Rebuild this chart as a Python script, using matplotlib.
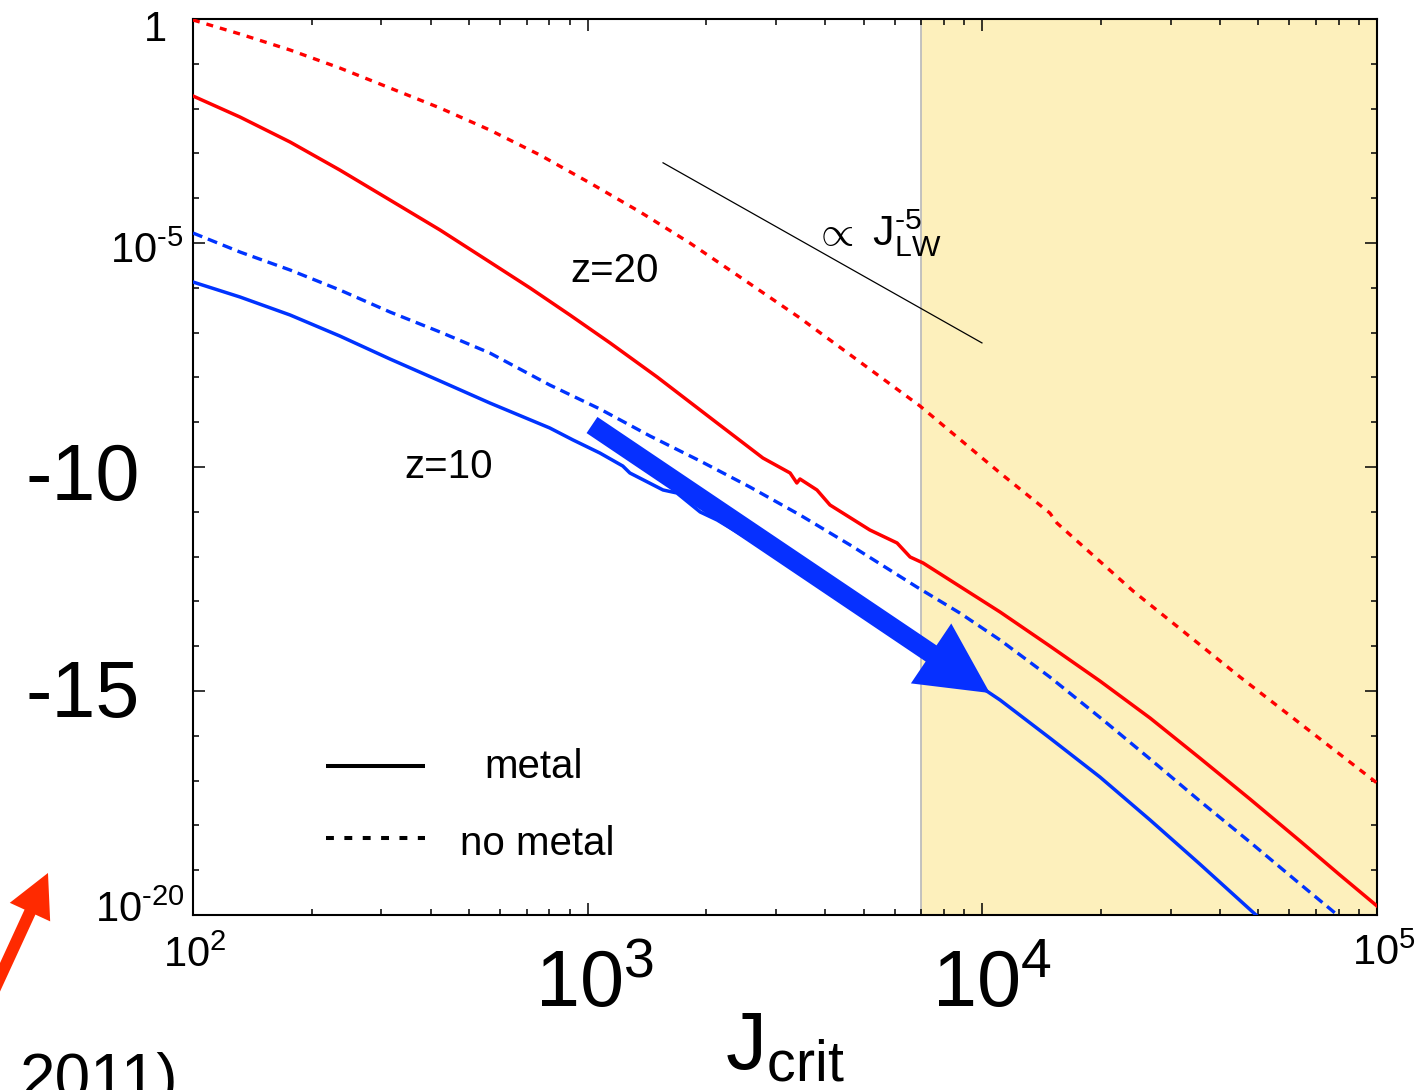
import numpy as np
import matplotlib
matplotlib.use("Agg")
import matplotlib.pyplot as plt
from matplotlib import font_manager
from matplotlib.patches import FancyArrowPatch, ArrowStyle
from matplotlib.lines import Line2D
from matplotlib.ticker import FixedLocator, LogLocator, NullFormatter
from matplotlib.transforms import offset_copy, blended_transform_factory

# ---------------- data (log10 J_crit, log10 fraction) ----------------
# z = 20, no metal (dotted red)
logj_nometal_z20 = [2.000, 2.119, 2.246, 2.372, 2.499, 2.626, 2.752, 2.879, 3.006, 3.133, 3.259,
                    3.386, 3.538, 3.690, 3.842, 4.045, 4.171, 4.189, 4.382, 4.653, 5.000]
logf_nometal_z20 = [-0.022, -0.335, -0.692, -1.094, -1.540, -1.987, -2.478, -3.036, -3.661, -4.308,
                    -5.000, -5.759, -6.674, -7.656, -8.638, -10.134, -11.027, -11.250, -12.768,
                    -14.688, -17.054]

# z = 20, metal (solid red)
logj_metal_z20 = [2.000, 2.119, 2.246, 2.372, 2.499, 2.626, 2.752, 2.854, 2.955, 3.057, 3.176,
                  3.328, 3.444, 3.513, 3.530, 3.538, 3.581, 3.614, 3.715, 3.784, 3.817, 3.850,
                  4.045, 4.171, 4.298, 4.425, 4.551, 4.678, 4.805, 4.906, 5.000]
logf_metal_z20 = [-1.719, -2.188, -2.746, -3.371, -4.040, -4.710, -5.424, -6.004, -6.607, -7.232,
                  -7.991, -9.018, -9.799, -10.134, -10.357, -10.268, -10.513, -10.848, -11.406,
                  -11.696, -12.009, -12.143, -13.237, -13.996, -14.777, -15.603, -16.496, -17.411,
                  -18.348, -19.107, -19.799]

# z = 10, no metal (dotted blue)
logj_nometal_z10 = [2.000, 2.119, 2.246, 2.372, 2.499, 2.626, 2.752, 2.904, 3.031, 3.158, 3.285,
                    3.411, 3.538, 3.665, 3.834, 3.943, 4.045, 4.171, 4.306, 4.425, 4.551, 4.678,
                    4.805, 4.906]
logf_nometal_z10 = [-4.777, -5.201, -5.603, -6.049, -6.540, -6.987, -7.455, -8.170, -8.705, -9.308,
                    -9.866, -10.446, -11.071, -11.741, -12.679, -13.259, -13.862, -14.688, -15.647,
                    -16.518, -17.455, -18.371, -19.308, -20.045]

# z = 10, metal (solid blue)
logj_metal_z10 = [2.000, 2.119, 2.246, 2.372, 2.499, 2.626, 2.752, 2.904, 2.963, 3.031, 3.089,
                  3.107, 3.191, 3.226, 3.285, 3.328, 3.538, 3.792, 4.045, 4.171, 4.298, 4.425,
                  4.551, 4.696]
logf_metal_z10 = [-5.871, -6.205, -6.607, -7.076, -7.589, -8.080, -8.571, -9.129, -9.397, -9.688,
                  -9.978, -10.134, -10.513, -10.580, -11.004, -11.183, -12.299, -13.705, -15.201,
                  -16.049, -16.920, -17.879, -18.862, -20.020]

# power-law guide  ~ J^-5
ref_logj = [3.191, 3.999]
ref_logf = [-3.21, -7.23]

# shift of the z=10 metal curve
arrow_logj = [3.011, 4.019]
arrow_logf = [-9.063, -15.045]

# region above the critical intensity
j_shade = 7000

x_major = [1e2, 1e3, 1e4, 1e5]
y_major = [1e-20, 1e-15, 1e-10, 1e-5, 1.0]

# ---------------- style ----------------
names = {f.name for f in font_manager.fontManager.ttflist}
FAMILY = "Liberation Sans"
plt.rcParams["font.family"] = [FAMILY, "DejaVu Sans"]
plt.rcParams["mathtext.fontset"] = "custom"
plt.rcParams["mathtext.rm"] = FAMILY
plt.rcParams["mathtext.it"] = FAMILY + ":italic"
plt.rcParams["mathtext.bf"] = FAMILY + ":bold"
plt.rcParams["mathtext.sf"] = FAMILY

RED = "#FF0000"
BLUE = "#0033FF"
ARROW_BLUE = "#0630FF"
SHADE = "#FDF0BC"

fig = plt.figure(figsize=(14.28, 10.9), dpi=100)
ax = fig.add_axes([0.13515, 0.16055, 0.82913, 0.82202])
ax.set_xscale("log")
ax.set_yscale("log")


def pw(v):
    return np.power(10.0, v)


# shaded band and its edge
ax.axvspan(j_shade, 1e6, color=SHADE, zorder=0, lw=0)
ax.axvline(j_shade, color="#BDBDBD", lw=1.3, zorder=0.5)

lw = 2.5
ax.plot(pw(logj_nometal_z20), pw(logf_nometal_z20), color=RED, lw=2.4, ls=(0, (2.1, 2.1)), zorder=3)
ax.plot(pw(logj_metal_z20), pw(logf_metal_z20), color=RED, lw=lw, zorder=3)
ax.plot(pw(logj_nometal_z10), pw(logf_nometal_z10), color=BLUE, lw=2.4, ls=(0, (3.0, 1.8)), zorder=3)
ax.plot(pw(logj_metal_z10), pw(logf_metal_z10), color=BLUE, lw=lw, zorder=3)
ax.plot(pw(ref_logj), pw(ref_logf), color="black", lw=0.9, zorder=3)

arrow = FancyArrowPatch(posA=(pw(arrow_logj[0]), pw(arrow_logf[0])),
                        posB=(pw(arrow_logj[1]), pw(arrow_logf[1])),
                        transform=ax.transData,
                        arrowstyle=ArrowStyle.Simple(head_length=51, head_width=52, tail_width=14),
                        mutation_scale=1, shrinkA=0, shrinkB=0, color=ARROW_BLUE, lw=0, zorder=4)
ax.add_patch(arrow)

# axes frame and ticks
ax.xaxis.set_major_locator(FixedLocator(x_major))
ax.xaxis.set_minor_locator(LogLocator(base=10, subs=np.arange(2, 10), numticks=30))
ax.yaxis.set_major_locator(FixedLocator(y_major))
ax.yaxis.set_minor_locator(FixedLocator(10.0 ** np.arange(-20, 1)))
for axis in (ax.xaxis, ax.yaxis):
    axis.set_major_formatter(NullFormatter())
    axis.set_minor_formatter(NullFormatter())
ax.tick_params(which="both", direction="in", top=True, right=True,
               labelleft=False, labelbottom=False, width=1.1, color="black")
ax.tick_params(which="major", length=8.6)
ax.tick_params(which="minor", length=4.3)
for s in ax.spines.values():
    s.set_linewidth(1.5)

# tick labels
ytr = blended_transform_factory(ax.transAxes, ax.transData)
xtr = blended_transform_factory(ax.transData, ax.transAxes)


def put(x, y, s, base, dx, dy, size, ha="left", va="baseline"):
    tr = offset_copy(base, fig=fig, x=dx, y=dy, units="dots")
    ax.text(x, y, s, transform=tr, fontsize=size, ha=ha, va=va, clip_on=False)


SMALL = 30
BIG = 57
MID = 29
put(0, 1.0, "1", ytr, -26, -22, SMALL, ha="right")
put(0, 1e-5, r"$10^{\text{-}5}$", ytr, -10, -20, SMALL, ha="right")
put(0, 1e-20, r"$10^{\text{-}20}$", ytr, -8, -7, SMALL, ha="right")
put(0, 1e-10, "-10", ytr, -53, -33, BIG, ha="right")
put(0, 1e-15, "-15", ytr, -53, -26, BIG, ha="right")

put(1e2, 0, r"$10^{2}$", xtr, -30, -52, SMALL)
put(1e5, 0, r"$10^{5}$", xtr, -25, -50, SMALL)
put(1e3, 0, r"$10^{3}$", xtr, -53, -92, BIG)
put(1e4, 0, r"$10^{4}$", xtr, -50, -92, BIG)

# axis title
put(0.5, 0, r"$\mathrm{J}_{\mathrm{crit}}$", ax.transAxes, 0, -155, 59, ha="center")

# curve annotations
ax.text(902, 1.35e-6, "z=20", fontsize=MID, ha="left", va="baseline", zorder=5)
ax.text(344, 5.69e-11, "z=10", fontsize=MID, ha="left", va="baseline", zorder=5)
ax.text(3720, 9.0e-6, r"$\propto\ \mathrm{J}_{\mathrm{LW}}^{\text{-}5}$", fontsize=31,
        ha="left", va="baseline", zorder=5)

# key for line styles
ax.add_line(Line2D([0.1123, 0.1959], [0.1663, 0.1663], transform=ax.transAxes,
                   color="black", lw=2.9, solid_capstyle="butt"))
ax.add_line(Line2D([0.1123, 0.1959], [0.0859, 0.0859], transform=ax.transAxes,
                   color="black", lw=2.9, ls=(0, (1.96, 2.6))))
ax.text(0.288, 0.1529, "metal", transform=ax.transAxes, fontsize=MID, ha="center", va="baseline")
ax.text(0.2905, 0.0670, "no metal", transform=ax.transAxes, fontsize=MID, ha="center", va="baseline")

ax.set_xlim(1e2, 1e5)
ax.set_ylim(1e-20, 1.0)

# pointer and citation fragment at the lower-left margin
red_arrow = FancyArrowPatch(posA=(-0.007, 0.0835), posB=(0.0336, 0.1991), transform=fig.transFigure,
                            arrowstyle=ArrowStyle.Simple(head_length=31, head_width=32, tail_width=8.6),
                            mutation_scale=1, shrinkA=0, shrinkB=0, color="#FF2A00", lw=0)
fig.add_artist(red_arrow)
fig.text(0.014, -0.0083, "2011)", fontsize=46, ha="left", va="baseline")

fig.savefig("out.png", dpi=100)
